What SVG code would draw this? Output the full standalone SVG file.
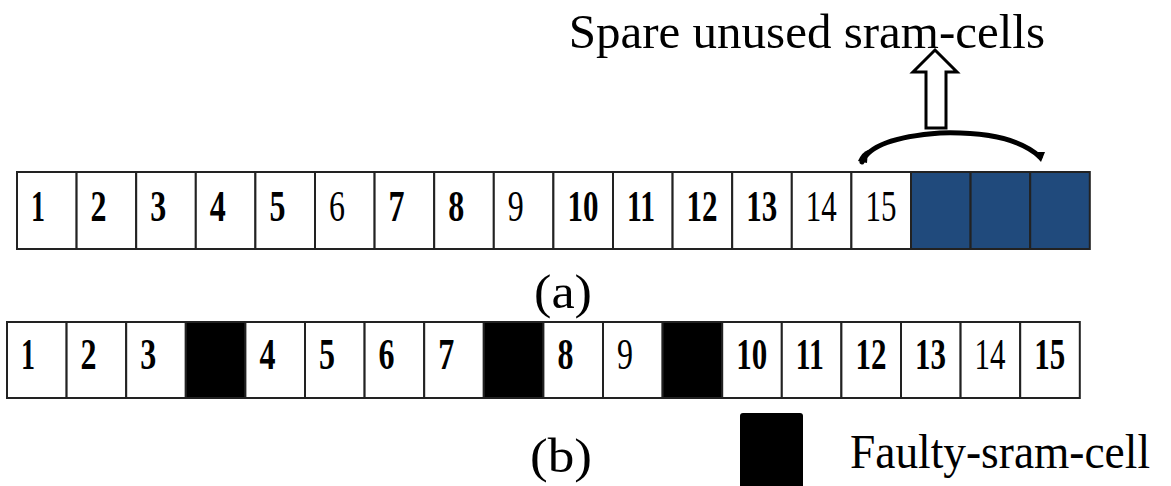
<svg xmlns="http://www.w3.org/2000/svg" width="1171" height="486" viewBox="0 0 1171 486">
<style>
.cell{fill:#fff;stroke:#222;stroke-width:2}
.spare{fill:#204a7c;stroke:#222;stroke-width:2}
.bad{fill:#000;stroke:#222;stroke-width:2}
.num{font-family:"Liberation Serif",serif;font-size:45px;font-weight:bold;fill:#000}
.nr{font-weight:normal}
.lbl{font-family:"Liberation Serif",serif;font-size:49px;fill:#000}
</style>
<rect width="1171" height="486" fill="#fff"/>
<g id="row-a">
<rect class="cell" x="17" y="172" width="59.6" height="77"/>
<rect class="cell" x="76.6" y="172" width="59.6" height="77"/>
<rect class="cell" x="136.2" y="172" width="59.6" height="77"/>
<rect class="cell" x="195.8" y="172" width="59.6" height="77"/>
<rect class="cell" x="255.4" y="172" width="59.6" height="77"/>
<rect class="cell" x="315" y="172" width="59.6" height="77"/>
<rect class="cell" x="374.6" y="172" width="59.6" height="77"/>
<rect class="cell" x="434.2" y="172" width="59.6" height="77"/>
<rect class="cell" x="493.8" y="172" width="59.6" height="77"/>
<rect class="cell" x="553.4" y="172" width="59.6" height="77"/>
<rect class="cell" x="613" y="172" width="59.6" height="77"/>
<rect class="cell" x="672.6" y="172" width="59.6" height="77"/>
<rect class="cell" x="732.2" y="172" width="59.6" height="77"/>
<rect class="cell" x="791.8" y="172" width="59.6" height="77"/>
<rect class="cell" x="851.4" y="172" width="59.6" height="77"/>
<rect class="spare" x="911" y="172" width="59.6" height="77"/>
<rect class="spare" x="970.6" y="172" width="59.6" height="77"/>
<rect class="spare" x="1030.2" y="172" width="59.6" height="77"/>
<text class="num" x="31" y="221" textLength="14" lengthAdjust="spacingAndGlyphs">1</text>
<text class="num" x="90.6" y="221" textLength="16" lengthAdjust="spacingAndGlyphs">2</text>
<text class="num" x="150.2" y="221" textLength="16" lengthAdjust="spacingAndGlyphs">3</text>
<text class="num" x="209.8" y="221" textLength="16" lengthAdjust="spacingAndGlyphs">4</text>
<text class="num" x="269.4" y="221" textLength="16" lengthAdjust="spacingAndGlyphs">5</text>
<text class="num nr" x="329" y="221" textLength="16" lengthAdjust="spacingAndGlyphs">6</text>
<text class="num" x="388.6" y="221" textLength="16" lengthAdjust="spacingAndGlyphs">7</text>
<text class="num" x="448.2" y="221" textLength="16" lengthAdjust="spacingAndGlyphs">8</text>
<text class="num nr" x="507.8" y="221" textLength="16" lengthAdjust="spacingAndGlyphs">9</text>
<text class="num" x="567.4" y="221" textLength="31" lengthAdjust="spacingAndGlyphs">10</text>
<text class="num" x="627" y="221" textLength="28" lengthAdjust="spacingAndGlyphs">11</text>
<text class="num" x="686.6" y="221" textLength="31" lengthAdjust="spacingAndGlyphs">12</text>
<text class="num" x="746.2" y="221" textLength="31" lengthAdjust="spacingAndGlyphs">13</text>
<text class="num nr" x="805.8" y="221" textLength="31" lengthAdjust="spacingAndGlyphs">14</text>
<text class="num nr" x="865.4" y="221" textLength="31" lengthAdjust="spacingAndGlyphs">15</text>
</g>
<g id="row-b">
<rect class="cell" x="7" y="322" width="59.6" height="76"/>
<rect class="cell" x="66.6" y="322" width="59.6" height="76"/>
<rect class="cell" x="126.2" y="322" width="59.6" height="76"/>
<rect class="bad" x="185.8" y="322" width="59.6" height="76"/>
<rect class="cell" x="245.4" y="322" width="59.6" height="76"/>
<rect class="cell" x="305" y="322" width="59.6" height="76"/>
<rect class="cell" x="364.6" y="322" width="59.6" height="76"/>
<rect class="cell" x="424.2" y="322" width="59.6" height="76"/>
<rect class="bad" x="483.8" y="322" width="59.6" height="76"/>
<rect class="cell" x="543.4" y="322" width="59.6" height="76"/>
<rect class="cell" x="603" y="322" width="59.6" height="76"/>
<rect class="bad" x="662.6" y="322" width="59.6" height="76"/>
<rect class="cell" x="722.2" y="322" width="59.6" height="76"/>
<rect class="cell" x="781.8" y="322" width="59.6" height="76"/>
<rect class="cell" x="841.4" y="322" width="59.6" height="76"/>
<rect class="cell" x="901" y="322" width="59.6" height="76"/>
<rect class="cell" x="960.6" y="322" width="59.6" height="76"/>
<rect class="cell" x="1020.2" y="322" width="59.6" height="76"/>
<text class="num" x="21" y="369" textLength="14" lengthAdjust="spacingAndGlyphs">1</text>
<text class="num" x="80.6" y="369" textLength="16" lengthAdjust="spacingAndGlyphs">2</text>
<text class="num" x="140.2" y="369" textLength="16" lengthAdjust="spacingAndGlyphs">3</text>
<text class="num" x="259.4" y="369" textLength="16" lengthAdjust="spacingAndGlyphs">4</text>
<text class="num" x="319" y="369" textLength="16" lengthAdjust="spacingAndGlyphs">5</text>
<text class="num" x="378.6" y="369" textLength="16" lengthAdjust="spacingAndGlyphs">6</text>
<text class="num" x="438.2" y="369" textLength="16" lengthAdjust="spacingAndGlyphs">7</text>
<text class="num" x="557.4" y="369" textLength="16" lengthAdjust="spacingAndGlyphs">8</text>
<text class="num nr" x="617" y="369" textLength="16" lengthAdjust="spacingAndGlyphs">9</text>
<text class="num" x="736.2" y="369" textLength="31" lengthAdjust="spacingAndGlyphs">10</text>
<text class="num" x="795.8" y="369" textLength="28" lengthAdjust="spacingAndGlyphs">11</text>
<text class="num" x="855.4" y="369" textLength="31" lengthAdjust="spacingAndGlyphs">12</text>
<text class="num" x="915" y="369" textLength="31" lengthAdjust="spacingAndGlyphs">13</text>
<text class="num nr" x="974.6" y="369" textLength="31" lengthAdjust="spacingAndGlyphs">14</text>
<text class="num" x="1034.2" y="369" textLength="31" lengthAdjust="spacingAndGlyphs">15</text>
</g>
<g id="connectors">
<path d="M 862 162 Q 872 138 940 133 Q 1012 131 1040 157" fill="none" stroke="#000" stroke-width="5" stroke-linecap="round"/>
<path d="M 858 161 Q 862 152 868 150 L 867 163 Z" fill="#000"/>
<path d="M 1032 152 L 1045 152 L 1041 162 Z" fill="#000"/>
<polygon points="935,50 957,72 946,72 946,128 926,128 926,72 913,72" fill="#fff" stroke="#000" stroke-width="3" stroke-linejoin="miter"/>
</g>
<g id="labels">
<text class="lbl" x="1045" y="48" text-anchor="end">Spare unused sram-cells</text>
<text class="lbl" x="534" y="308" font-size="52" textLength="58" lengthAdjust="spacingAndGlyphs">(a)</text>
<text class="lbl" x="530" y="472" font-size="57" textLength="62" lengthAdjust="spacingAndGlyphs">(b)</text>
</g>
<g id="legend">
<rect x="740" y="413" width="63" height="80" rx="3" fill="#000"/>
<text class="lbl" x="850" y="468" font-size="45" textLength="300" lengthAdjust="spacingAndGlyphs">Faulty-sram-cell</text>
</g>
</svg>
